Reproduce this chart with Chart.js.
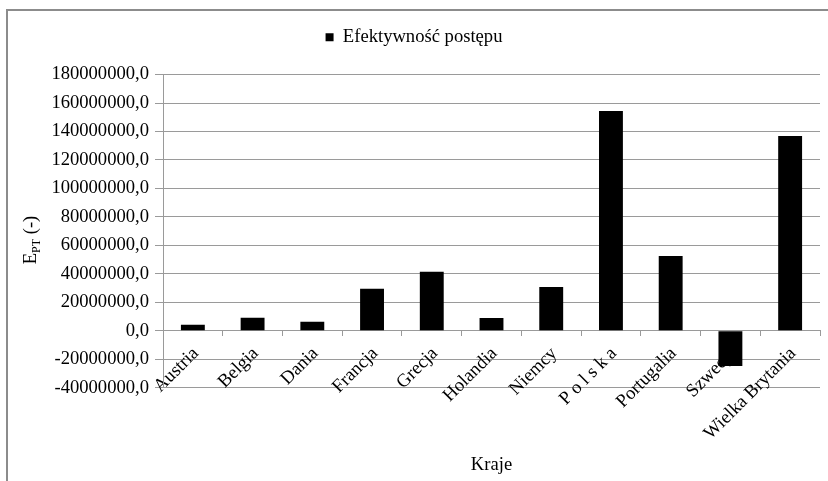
<!DOCTYPE html>
<html>
<head>
<meta charset="utf-8">
<script src="https://cdn.jsdelivr.net/npm/chart.js@4.4.0/dist/chart.umd.min.js"></script>
<style>
  html, body { margin: 0; padding: 0; background: #fff; overflow: hidden; }
  #frame { position: absolute; left: 6px; top: 9px; width: 900px; height: 600px; border: 2px solid #8c8c8c; box-sizing: border-box; }
  #wrap { position: absolute; left: 0; top: 0; width: 828px; height: 481px; }
</style>
</head>
<body>
<div id="frame"></div>
<div id="wrap"><canvas id="canvas" width="828" height="481"></canvas></div>
<script>
// data
const countries = ['Austria', 'Belgia', 'Dania', 'Francja', 'Grecja', 'Holandia', 'Niemcy', 'P o l s k a', 'Portugalia', 'Szwecja', 'Wielka Brytania'];
const efficiency = [4200000, 9100000, 6300000, 29600000, 41500000, 9000000, 30700000, 154500000, 52500000, -24800000, 136800000];
const seriesName = 'Efektywność postępu';
const yMin = -40000000;
const yMax = 180000000;
const yStep = 20000000;
const xTitle = 'Kraje';

const serif = '"Liberation Serif", "Times New Roman", serif';
const fontSize = 18.6;
const gridGray = '#9a9a9a';

// y axis title with the PT subscript
const yTitlePlugin = {
  id: 'yTitle',
  afterDraw(chart) {
    const ctx = chart.ctx;
    const big = fontSize + 'px ' + serif, small = '12px ' + serif;
    ctx.save();
    ctx.translate(30, 240);
    ctx.rotate(-Math.PI / 2);
    ctx.fillStyle = '#000';
    ctx.textBaseline = 'alphabetic';
    ctx.font = big;
    const wE = ctx.measureText('E').width;
    const wR = ctx.measureText(' (-)').width;
    ctx.font = small;
    const wS = ctx.measureText('PT').width;
    let x = -(wE + wS + wR) / 2;
    ctx.font = big; ctx.fillText('E', x, 6); x += wE;
    ctx.font = small; ctx.fillText('PT', x, 10); x += wS;
    ctx.font = big; ctx.fillText(' (-)', x, 6);
    ctx.restore();
  }
};

var config = {
  type: 'bar',
  data: {
    labels: countries,
    datasets: [{
      label: seriesName,
      data: efficiency,
      backgroundColor: '#000',
      borderWidth: 0,
      categoryPercentage: 1.0,
      barPercentage: 0.4
    }]
  },
  options: {
    responsive: false,
    animation: false,
    layout: { padding: { left: 8, right: 8, top: 18, bottom: 5 } },
    scales: {
      x: {
        position: { y: 0 },
        afterFit: (s) => { s.height = 0; },
        grid: { drawOnChartArea: false, drawTicks: true, tickLength: 5, color: gridGray, offset: true },
        border: { display: true, color: gridGray },
        ticks: { font: { family: serif, size: fontSize }, color: '#000', minRotation: 45, maxRotation: 45, autoSkip: false, padding: 7, labelOffset: 3 }
      },
      // empty spacer between the legend and the plot
      spacer: {
        type: 'category',
        labels: [''],
        position: 'top',
        afterFit: (s) => { s.height = 18; },
        grid: { display: false },
        border: { display: false },
        ticks: { display: false }
      },
      y: {
        min: yMin,
        max: yMax,
        afterFit: (s) => { s.width = 155; },
        grid: { color: gridGray, tickLength: 8 },
        border: { display: true, color: gridGray },
        ticks: {
          stepSize: yStep,
          font: { family: serif, size: fontSize },
          color: '#000',
          padding: 6,
          callback: (v) => v.toFixed(1).replace('.', ',')
        }
      }
    },
    plugins: {
      legend: {
        position: 'top',
        labels: { font: { family: serif, size: fontSize }, color: '#000', boxWidth: 8, boxHeight: 8, padding: 10 }
      },
      title: {
        display: true,
        text: xTitle,
        position: 'bottom',
        fullSize: false,
        font: { family: serif, size: fontSize, weight: 'normal' },
        color: '#000',
        padding: { top: 66, bottom: 0 }
      },
      tooltip: { enabled: false }
    }
  },
  plugins: [yTitlePlugin]
};

window.myBar = new Chart(document.getElementById('canvas'), config);
</script>
</body>
</html>
